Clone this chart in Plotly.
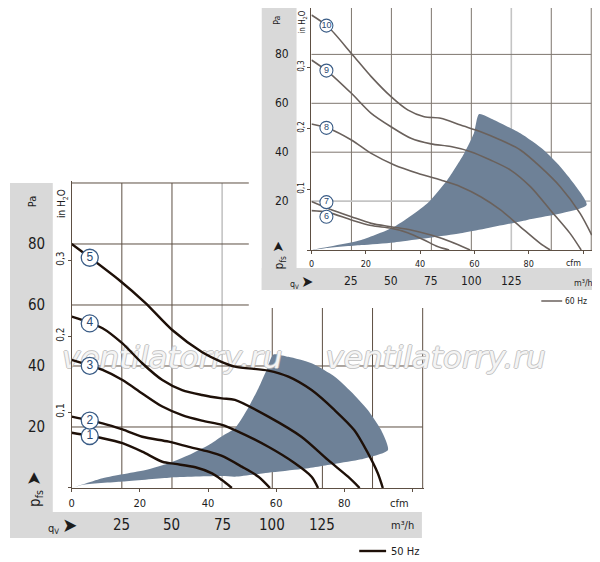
import numpy as np
import plotly.graph_objects as go

# the page adds an 8px body margin, so the figure is drawn 8px smaller and shifted
PAGE_W, PAGE_H, OFF = 600, 562, 8
W, H = PAGE_W - OFF, PAGE_H - OFF
CFM_TO_M3H = 1.699
PA_PER_INH2O = 249.09

# ---------- 50 Hz curves (q in cfm, p in Pa) ----------
q50_1 = [0, 9.05, 14.9, 20.7, 26.6, 30.4, 36.3, 41.2, 44.1, 47.0]
p50_1 = [18.1, 16.3, 14.7, 11.9, 8.6, 7.9, 6.8, 4.8, 2.6, 0]
q50_2 = [0, 9.05, 14.9, 20.7, 28.5, 34.4, 40.2, 44.1, 49.9, 54.8, 58.2]
p50_2 = [23.4, 21.2, 19.2, 16.8, 15.2, 13.5, 11.9, 10.5, 7.0, 3.7, 0]
q50_3 = [0, 9.05, 14.9, 20.7, 26.6, 32.4, 38.2, 44.1, 47.9, 57.7, 65.5, 70.4, 72.3]
p50_3 = [42.0, 38.7, 35.4, 31.0, 26.7, 23.9, 22.1, 20.7, 19.0, 13.5, 8.1, 3.7, 0]
q50_4 = [0, 9.05, 14.9, 20.7, 26.6, 32.4, 38.2, 44.1, 47.9, 57.7, 67.4, 75.2, 81.1, 84.5]
p50_4 = [56.2, 52.4, 47.4, 40.9, 35.4, 32.1, 30.5, 29.4, 28.9, 23.4, 16.8, 9.2, 3.7, 0]
q50_5 = [0, 13.9, 21.6, 29.5, 38.2, 44.1, 47.9, 57.7, 63.6, 70.4, 77.1, 82.9, 86.9, 89.8, 91.3]
p50_5 = [80.0, 68.2, 60.7, 51.8, 44.6, 41.3, 39.8, 38.5, 36.5, 32.1, 25.6, 19.0, 11.5, 4.9, 0]

# operating range (50 Hz): lower edge, left edge, outer arc
q50_low = [0, 3, 14.9, 28.5, 44.1, 47.9, 57.7, 67.4, 77.1, 84.9, 92.8]
p50_low = [0, 1.0, 2.1, 3.4, 3.9, 3.7, 5.0, 6.2, 7.9, 9.4, 12.5]
q50_left = [0, 9.05, 14.9, 21.7, 28.5, 34.4, 40.2, 44.1, 47.9, 51.9, 54.8, 57.2, 59.2]
p50_left = [0, 3.2, 4.5, 5.9, 8.1, 10.8, 14.1, 17.0, 19.6, 26.5, 32.7, 38.7, 43.8]
q50_arc = [59.2, 63.6, 70.4, 77.2, 82.0, 86.9, 90.8, 92.8]
p50_arc = [43.8, 43.0, 40.9, 36.5, 31.6, 25.6, 19.0, 12.5]

# ---------- 60 Hz curves ----------
q60_6 = [0, 6.1, 14.7, 22.0, 29.3, 35.4, 41.5, 46.4, 50.7]
p60_6 = [16.1, 15.4, 12.3, 10.0, 8.9, 7.1, 4.1, 1.4, 0]
q60_7 = [0, 6.1, 14.7, 22.0, 29.3, 36.6, 44.0, 51.3, 58.4]
p60_7 = [19.8, 17.0, 13.6, 10.9, 9.5, 8.2, 6.1, 3.4, 0]
q60_8 = [0, 6.1, 14.7, 22.0, 30.5, 39.1, 47.6, 54.9, 62.3, 69.6, 76.9, 84.2, 87.9]
p60_8 = [51.5, 49.8, 45.0, 39.5, 34.8, 31.4, 28.6, 25.9, 21.8, 16.4, 9.5, 2.7, 0]
q60_9 = [0, 6.1, 14.7, 22.0, 29.3, 36.6, 44.0, 51.3, 58.6, 65.9, 73.3, 80.6, 87.9, 95.2, 99.3]
p60_9 = [77.7, 72.9, 64.1, 55.9, 50.4, 45.7, 43.4, 42.3, 40.2, 36.8, 32.7, 25.9, 16.4, 6.8, 0]
q60_10 = [0, 6.1, 14.7, 22.0, 29.3, 35.4, 41.5, 47.6, 54.9, 62.3, 69.6, 76.9, 84.2, 91.6, 98.9, 103.2]
p60_10 = [96.1, 91.3, 80.4, 70.9, 62.7, 57.3, 54.5, 53.9, 51.1, 48.4, 45.0, 40.9, 34.1, 25.9, 15.0, 6.1]

q60_low = [0, 5, 18.3, 30.5, 54.9, 79.4, 101.3]
p60_low = [0, 0.7, 2.0, 3.1, 6.8, 12.3, 18.4]
q60_left = [0, 18.3, 30.5, 42.7, 50.0, 56.2, 59.8, 61.7]
p60_left = [0, 4.1, 9.5, 19.1, 28.6, 39.5, 47.7, 55.6]
q60_arc = [61.7, 67.2, 76.9, 85.5, 91.6, 96.5, 101.3]
p60_arc = [55.6, 53.2, 47.7, 40.9, 34.1, 27.3, 18.4]

# ---------- ticks / labels ----------
cfm_ticks = [0, 20, 40, 60, 80, 100]
cfm_text = ['0', '20', '40', '60', '80', '']
m3h_grid = [25, 50, 75, 100, 125, 150, 175]
m3h_labels = [25, 50, 75, 100, 125]
pa_grid = [20, 40, 60, 80, 100]
pa_labels = [20, 40, 60, 80]
inh2o_ticks = [0, 0.1, 0.2, 0.3]
inh2o_text = ['', '0,1', '0,2', '0,3']
watermark = 'ventilatorry.ru'

FONT = 'Liberation Sans Narrow, DejaVu Sans Condensed, Arial Narrow, sans-serif'
SANS = 'Liberation Sans, Arial, sans-serif'
PANEL = '#d9d9d9'
FILL = '#6e8197'
BLUE = '#3a5c86'
GRID_LO = '#5d4f43'
GRID_UP = '#7e766e'
LIGHT = '#c4c4c4'
CURVE_LO = '#1e1008'
CURVE_UP = '#6a615c'
TXT = '#1c1c1c'
WM_LINE = '#bdbdbd'

Q_MAX, P_MAX = 103.5, 100.5
# pixel geometry (page pixels) of the two charts: origin and pixels per unit
LO = dict(ox=69, oy=488, sx=3.425, sy=3.05)
UP = dict(ox=310, oy=250, sx=2.73, sy=2.445)
for g in (LO, UP):
    # keep the scale, cut the range where the page margin ends
    g['pmax'] = min(P_MAX, (g['oy'] - OFF) / g['sy'])


def fx(px):
    return (px - OFF) / W


def fy(py):
    return 1 - (py - OFF) / H


def domains(g):
    return ([fx(g['ox']), fx(g['ox'] + Q_MAX * g['sx'])],
            [fy(g['oy']), min(1.0, fy(g['oy'] - g['pmax'] * g['sy']))])


lo_dx, lo_dy = domains(LO)
up_dx, up_dy = domains(UP)

fig = go.Figure()


def region(ql, pl, qa, pa, qlow, plow):
    # closed outline: left edge up, arc down, lower edge back to origin
    q = list(ql) + list(qa[1:]) + list(qlow[::-1][1:])
    p = list(pl) + list(pa[1:]) + list(plow[::-1][1:])
    return q, p


# ---- lower chart (50 Hz) ----
rq, rp = region(q50_left, p50_left, q50_arc, p50_arc, q50_low, p50_low)
fig.add_trace(go.Scatter(x=rq, y=rp, mode='lines', fill='toself', fillcolor=FILL,
                         line=dict(width=0, color=FILL, shape='spline', smoothing=0.6),
                         xaxis='x', yaxis='y', hoverinfo='skip'))

# watermark (first one centred, second one anchored at its left end)
wm_shadow = ', '.join('%s %s 0 %s' % (a, b, WM_LINE)
                      for a, b in [('1px', '0'), ('-1px', '0'), ('0', '1px'), ('0', '-1px')])
fig.add_trace(go.Scatter(
    x=[(170 - LO['ox']) / LO['sx'], (324 - LO['ox']) / LO['sx']],
    y=[(LO['oy'] - 360) / LO['sy']] * 2,
    mode='text', text=[watermark] * 2, textposition=['middle center', 'middle right'],
    cliponaxis=False, hoverinfo='skip',
    textfont=dict(family='DejaVu Sans, sans-serif', size=31, style='italic',
                  color='rgba(255,255,255,0.85)', shadow=wm_shadow),
    xaxis='x', yaxis='y'))

curves50 = [(q50_1, p50_1, '1'), (q50_2, p50_2, '2'), (q50_3, p50_3, '3'),
            (q50_4, p50_4, '4'), (q50_5, p50_5, '5')]
for q, p, n in curves50:
    fig.add_trace(go.Scatter(x=q, y=p, mode='lines', xaxis='x', yaxis='y',
                             line=dict(color=CURVE_LO, width=2.4, shape='spline', smoothing=0.8),
                             hoverinfo='skip'))
lab_q = 5.3
fig.add_trace(go.Scatter(
    x=[lab_q] * 5, y=[float(np.interp(lab_q, q, p)) for q, p, n in curves50],
    text=[n for q, p, n in curves50], mode='markers+text', textposition='middle center',
    marker=dict(size=17, color='white', line=dict(color=BLUE, width=1.3)),
    textfont=dict(size=12, color='#2b4a73', family=SANS),
    xaxis='x', yaxis='y', hoverinfo='skip'))

# ---- upper chart (60 Hz) ----
rq, rp = region(q60_left, p60_left, q60_arc, p60_arc, q60_low, p60_low)
fig.add_trace(go.Scatter(x=rq, y=rp, mode='lines', fill='toself', fillcolor=FILL,
                         line=dict(width=0, color=FILL, shape='spline', smoothing=0.6),
                         xaxis='x2', yaxis='y2', hoverinfo='skip'))
curves60 = [(q60_6, p60_6, '6'), (q60_7, p60_7, '7'), (q60_8, p60_8, '8'),
            (q60_9, p60_9, '9'), (q60_10, p60_10, '10')]
for q, p, n in curves60:
    fig.add_trace(go.Scatter(x=q, y=p, mode='lines', xaxis='x2', yaxis='y2',
                             line=dict(color=CURVE_UP, width=1.6, shape='spline', smoothing=0.8),
                             hoverinfo='skip'))
lab_q = 5.5
nudge = {'6': -1.9, '7': 2.3}
fig.add_trace(go.Scatter(
    x=[lab_q] * 5,
    y=[float(np.interp(lab_q, q, p)) + nudge.get(n, 0) for q, p, n in curves60],
    text=[n for q, p, n in curves60], mode='markers+text', textposition='middle center',
    marker=dict(size=13, color='white', line=dict(color=BLUE, width=1.1)),
    textfont=dict(size=9, color='#2b4a73', family=SANS),
    xaxis='x2', yaxis='y2', hoverinfo='skip'))

# ---- shapes: panels, grids, cover (all in the lower layer, drawn in list order) ----
shapes = []


def prect(x0, y0, x1, y1, color):
    shapes.append(dict(type='rect', xref='paper', yref='paper', layer='below',
                       x0=fx(x0), x1=fx(x1), y0=fy(y1), y1=fy(y0),
                       fillcolor=color, line=dict(width=0)))


def grid(g, xa, ya, dx, dy, col, light_v, light_h):
    top = dy[0] + 100 / g['pmax'] * (dy[1] - dy[0])
    right = dx[0] + 175 / CFM_TO_M3H / Q_MAX * (dx[1] - dx[0])
    for v in m3h_grid:
        c = LIGHT if v == light_v else col
        shapes.append(dict(type='line', xref=xa, yref='paper', layer='below',
                           x0=v / CFM_TO_M3H, x1=v / CFM_TO_M3H, y0=dy[0], y1=min(top, 1.0),
                           line=dict(color=c, width=1.6 if c == LIGHT else 1)))
    for v in pa_grid:
        c = LIGHT if v == light_h else col
        shapes.append(dict(type='line', xref='paper', yref=ya, layer='below',
                           x0=dx[0], x1=right, y0=v, y1=v,
                           line=dict(color=c, width=1.6 if c == LIGHT else 1)))


# lower chart panel
prect(7, 183, 50, 538, PANEL)
prect(7, 512, 421, 538, PANEL)
grid(LO, 'x', 'y', lo_dx, lo_dy, GRID_LO, 75, None)
# upper chart sits on a white sheet over the lower one
prect(247, 0, 600, 308, 'white')
prect(260, 5, 295, 290, PANEL)
prect(260, 268, 593, 290, PANEL)
grid(UP, 'x2', 'y2', up_dx, up_dy, GRID_UP, 125, 20)

# legend lines
shapes.append(dict(type='line', xref='paper', yref='paper', layer='above',
                   x0=fx(358), x1=fx(385), y0=fy(551), y1=fy(551),
                   line=dict(color=CURVE_LO, width=2.4)))
shapes.append(dict(type='line', xref='paper', yref='paper', layer='above',
                   x0=fx(541), x1=fx(562), y0=fy(301), y1=fy(301),
                   line=dict(color=CURVE_UP, width=1.5)))

# ---- annotations ----
ann = []


def text(x, y, s, size, xref='paper', yref='paper', angle=0, xanchor='center', color=TXT, family=FONT):
    ann.append(dict(x=x, y=y, xref=xref, yref=yref, text=s, showarrow=False, textangle=angle,
                    xanchor=xanchor, yanchor='middle', font=dict(size=size, color=color, family=family)))


def chart_text(g, k, pa_x, inh_x, pfs_y, qv_x, band_y, cfm_xy, m3h_xy, xref, yref):
    for v in pa_labels:
        text(fx(pa_x), v, str(v), 15 * k, yref=yref)
    for v in m3h_labels:
        text(v / CFM_TO_M3H, fy(band_y), str(v), 15 * k, xref=xref)
    head = max(g['oy'] - 94 * g['sy'], OFF + 12)
    text(fx(pa_x - 5 * k), fy(head), 'Pa', 11 * k, angle=-90)
    text(fx(inh_x), fy(head + 2), 'in H<sub>2</sub>O', 10 * k, angle=-90)
    text(fx(pa_x - 4 * k), fy(pfs_y), 'p<sub>fs</sub> <span style="font-size:%dpx">➤</span>' % round(19 * k),
         15 * k, angle=-90, family='DejaVu Sans Condensed, sans-serif')
    text(fx(qv_x), fy(band_y), 'q<sub>V</sub> <span style="font-size:%dpx">➤</span>' % round(20 * k),
         11 * k, family='DejaVu Sans Condensed, sans-serif')
    text(fx(cfm_xy[0]), fy(cfm_xy[1]), 'cfm', 11 * k)
    text(fx(m3h_xy[0]), fy(m3h_xy[1]), 'm³/h', 11 * k)


chart_text(LO, 1.0, 34, 60, 489, 60, 525, (398, 503), (401, 525), 'x', 'y')
chart_text(UP, 0.8, 280, 302, 255, 300, 281, (573, 263), (583, 283), 'x2', 'y2')
text(fx(388), fy(551), '50 Hz', 11, xanchor='left')
text(fx(563), fy(301), '60 Hz', 8.5, xanchor='left')


# ---- axes ----
def xaxis(dom, anchor, size):
    return dict(domain=dom, range=[0, Q_MAX], anchor=anchor, showgrid=False, zeroline=False,
                showline=True, linecolor=GRID_LO, linewidth=1, ticks='outside', ticklen=3,
                tickcolor=GRID_LO, tickvals=cfm_ticks, ticktext=cfm_text, ticklabelstandoff=2,
                tickfont=dict(size=size, color=TXT, family=FONT), fixedrange=True)


def yaxis(dom, anchor, size, pmax):
    return dict(domain=dom, range=[0, pmax], anchor=anchor, showgrid=False, zeroline=False,
                showline=True, linecolor=GRID_LO, linewidth=1, ticks='outside', ticklen=3,
                tickcolor=GRID_LO, tickvals=[v * PA_PER_INH2O for v in inh2o_ticks],
                ticktext=inh2o_text, tickangle=-90,
                tickfont=dict(size=size, color=TXT, family=FONT), fixedrange=True)


fig.update_layout(
    width=W, height=H, margin=dict(l=0, r=0, t=0, b=0),
    paper_bgcolor='white', plot_bgcolor='rgba(0,0,0,0)', showlegend=False,
    xaxis=xaxis(lo_dx, 'y', 11), yaxis=yaxis(lo_dy, 'x', 10, LO['pmax']),
    xaxis2=xaxis(up_dx, 'y2', 9), yaxis2=yaxis(up_dy, 'x2', 8, UP['pmax']),
    shapes=shapes, annotations=ann,
)

fig.write_html("out.html")
